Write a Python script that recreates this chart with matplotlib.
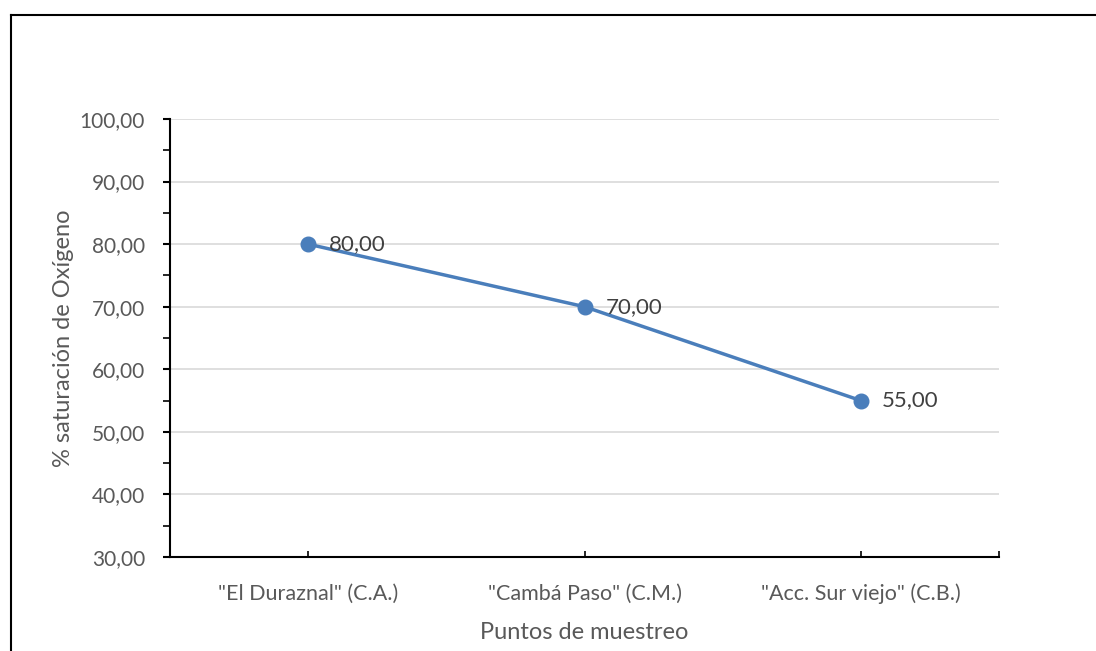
import matplotlib
matplotlib.use("Agg")
import matplotlib.pyplot as plt
from matplotlib.lines import Line2D
from matplotlib.ticker import MultipleLocator, FuncFormatter

categories = ['"El Duraznal" (C.A.)', '"Cambá Paso" (C.M.)', '"Acc. Sur viejo" (C.B.)']
values = [80.00, 70.00, 55.00]
y_ticks = [30, 40, 50, 60, 70, 80, 90, 100]

plt.rcParams['font.family'] = ['Lato', 'DejaVu Sans']

W, H = 1096, 651
fig = plt.figure(figsize=(W / 100, H / 100), dpi=100)
ax = fig.add_axes([170 / W, 1 - 557 / H, (999 - 170) / W, (557 - 119) / H])

x = list(range(len(categories)))
ax.plot(x, values, color='#4a7ebb', lw=2.5, marker='o', markersize=10.5,
        markerfacecolor='#4a7ebb', markeredgecolor='#4a7ebb', zorder=3)
for xi, v in zip(x, values):
    ax.annotate(f"{v:.2f}".replace('.', ','), (xi, v), xytext=(15, 0),
                textcoords='offset points', ha='left', va='center',
                fontsize=16, color='#404040', zorder=4)

ax.set_xlim(-0.5, len(categories) - 0.5)
ax.set_ylim(30, 100)
ax.set_yticks(y_ticks)
ax.yaxis.set_minor_locator(MultipleLocator(5))
ax.yaxis.set_major_formatter(FuncFormatter(lambda v, p: f"{v:.2f}".replace('.', ',')))
ax.grid(axis='y', color='#d9d9d9', lw=1.2, zorder=0)
ax.set_axisbelow(True)

ax.set_xticks(x + [len(categories) - 0.5])
ax.set_xticklabels(categories + [''])
ax.tick_params(axis='x', direction='in', length=4, width=1.2, colors='black',
               labelcolor='#595959', labelsize=15.5, pad=19)
ax.tick_params(axis='y', which='major', direction='out', length=5, width=1.5,
               colors='black', labelcolor='#595959', labelsize=15, pad=13)
ax.tick_params(axis='y', which='minor', direction='out', length=5, width=1.2, colors='black')

for s in ['top', 'right']:
    ax.spines[s].set_visible(False)
for s in ['left', 'bottom']:
    ax.spines[s].set_linewidth(1.5)
    ax.spines[s].set_color('black')

ax.set_ylabel('% saturación de Oxígeno', fontsize=17, color='#595959', labelpad=4)
ax.set_xlabel('Puntos de muestreo', fontsize=17, color='#595959', labelpad=13)

# outer border (left and top visible)
fig.add_artist(Line2D([11 / W, 11 / W], [0, 1 - 15 / H], transform=fig.transFigure,
                      color='black', lw=1.5))
fig.add_artist(Line2D([11 / W, 1], [1 - 15 / H, 1 - 15 / H], transform=fig.transFigure,
                      color='black', lw=1.5))

fig.savefig('out.png', dpi=100)
